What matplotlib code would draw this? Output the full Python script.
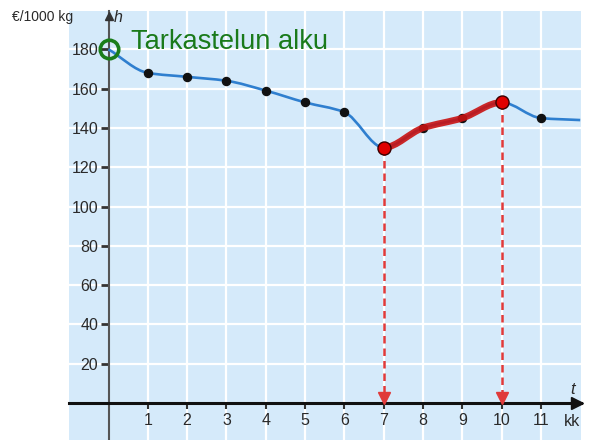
import numpy as np
import matplotlib.pyplot as plt
from matplotlib.path import Path
from matplotlib.patches import PathPatch

plt.rcParams['font.family'] = ['Liberation Sans', 'DejaVu Sans']

# data
months = [0, 1, 2, 3, 4, 5, 6, 7, 8, 9, 10, 11, 12]
price = [180, 168, 166, 164, 159, 153, 148, 130, 140, 145, 153, 145, 144]
dot_months = [1, 2, 3, 4, 5, 6, 8, 9, 11]
red_from, red_to = 7, 10
x_ticks = list(range(1, 12))
y_ticks = list(range(20, 181, 20))


def monotone_tangents(x, y):
    x = np.asarray(x, float)
    y = np.asarray(y, float)
    d = np.diff(y) / np.diff(x)
    m = np.zeros_like(y)
    m[0], m[-1] = d[0], d[-1]
    for k in range(1, len(y) - 1):
        if d[k - 1] * d[k] > 0:
            m[k] = 2 / (1 / d[k - 1] + 1 / d[k])
    return m


def smooth_path(x, y, m, i0, i1):
    verts = [(x[i0], y[i0])]
    codes = [Path.MOVETO]
    for i in range(i0, i1):
        h = x[i + 1] - x[i]
        verts += [(x[i] + h / 3, y[i] + h * m[i] / 3),
                  (x[i + 1] - h / 3, y[i + 1] - h * m[i + 1] / 3),
                  (x[i + 1], y[i + 1])]
        codes += [Path.CURVE4] * 3
    return Path(verts, codes)


tang = monotone_tangents(months, price)

fig = plt.figure(figsize=(5.92, 4.40), dpi=100)
ax = fig.add_axes([69 / 592, 0, 512 / 592, 429 / 440])
ax.set_facecolor('#d5eafa')
ax.set_xlim(-1.005, 12.02)
ax.set_ylim(-18.8, 199.5)

ax.set_xticks(x_ticks)
ax.set_yticks(y_ticks)
ax.set_xticklabels([str(v) for v in x_ticks])
ax.set_yticklabels([str(v) for v in y_ticks])
ax.grid(True, color='white', lw=1.6)
ax.set_axisbelow(True)

for s in ['top', 'right']:
    ax.spines[s].set_visible(False)
ax.spines['left'].set_position(('data', 0))
ax.spines['bottom'].set_position(('data', 0))
ax.spines['left'].set_color('#555555')
ax.spines['left'].set_linewidth(1.5)
ax.spines['bottom'].set_color('#111111')
ax.spines['bottom'].set_linewidth(2.2)
ax.tick_params(axis='y', direction='out', length=6, width=2, color='#333333',
               labelsize=11.5, labelcolor='#2a2a2a', pad=1.5)
ax.tick_params(axis='x', direction='out', length=4.5, width=1.5, color='#333333',
               labelsize=11.5, labelcolor='#2a2a2a', pad=3)

# axis arrows
ax.plot(11.92, 0, marker='>', ms=8, color='#111111', clip_on=False, zorder=5)
ax.plot(0, 197, marker='^', ms=6, color='#333333', clip_on=False, zorder=5)

# price curve
ax.add_patch(PathPatch(smooth_path(months, price, tang, 0, len(months) - 1),
                       fill=False, ec='#2f7fcf', lw=1.9, zorder=3))
ax.plot(dot_months, [price[months.index(m)] for m in dot_months], 'o',
        ms=5.8, color='#111111', zorder=4)

# highlighted interval
ax.add_patch(PathPatch(smooth_path(months, price, tang, red_from, red_to),
                       fill=False, ec='#c81212', lw=4.8, alpha=0.9,
                       capstyle='round', zorder=5))
for m in (red_from, red_to):
    p = price[months.index(m)]
    ax.plot([m, m], [p, 5.6], ls=(0, (3, 2)), color='#e03a3a', lw=1.8, zorder=3)
    ax.plot(m, 2.8, marker='v', ms=8.5, color='#e03a3a', zorder=4)
    ax.plot(m, p, 'o', ms=9.4, mfc='#e00000', mec='#3a0000', mew=1, zorder=6)

# start marker
ax.plot(0, price[0], 'o', ms=13.3, mfc='none', mec='#1a7d1a', mew=2.6, zorder=7)
ax.text(0.57, 180, 'Tarkastelun alku', color='#1a7a1a', fontsize=19.6,
        ha='left', va='baseline', zorder=7)

# axis labels
fig.text(73 / 592, 1 - 17 / 440, '€/1000 kg', ha='right', va='center',
         fontsize=10, color='#2a2a2a')
fig.text(114 / 592, 1 - 17 / 440, 'h', ha='left', va='center',
         fontsize=11.5, style='italic', color='#2a2a2a')
ax.text(11.8, 7.1, 't', ha='center', va='center', fontsize=12,
        style='italic', color='#2a2a2a')
ax.text(11.8, -9.3, 'kk', ha='center', va='center', fontsize=11.5,
        color='#2a2a2a')

plt.savefig('out.png', dpi=100)
